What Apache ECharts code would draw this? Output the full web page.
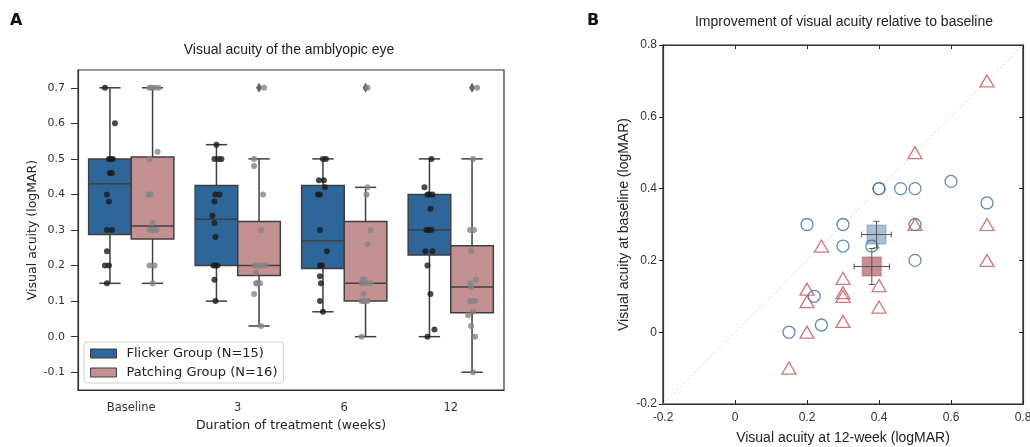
<!DOCTYPE html>
<html><head><meta charset="utf-8">
<script src="https://cdn.jsdelivr.net/npm/echarts@6/dist/echarts.min.js"></script>
<style>html,body{margin:0;padding:0;background:#fff}#c{width:1030px;height:447px}</style>
</head><body><div id="c"></div>
<script>
// ---------- Panel A data ----------
const categories = ['Baseline', '3', '6', '12'];
// box statistics per time point: [min, Q1, median, Q3, max]
const flickerBoxes = [
  [0.15, 0.287, 0.43, 0.50, 0.70],
  [0.10, 0.20, 0.33, 0.425, 0.54],
  [0.07, 0.192, 0.27, 0.425, 0.50],
  [0.00, 0.23, 0.30, 0.40, 0.50]
];
const patchingBoxes = [
  [0.15, 0.275, 0.311, 0.505, 0.70],
  [0.03, 0.172, 0.20, 0.324, 0.50],
  [0.00, 0.10, 0.15, 0.324, 0.42],
  [-0.10, 0.067, 0.14, 0.256, 0.50]
];
const patchingOutliers = [null, 0.70, 0.70, 0.70];
// individual subjects (strip points)
const flickerPoints = [
  [0.70, 0.60, 0.50, 0.50, 0.50, 0.46, 0.46, 0.40, 0.38, 0.30, 0.30, 0.24, 0.20, 0.20, 0.15],
  [0.54, 0.50, 0.50, 0.50, 0.40, 0.40, 0.38, 0.34, 0.32, 0.28, 0.20, 0.20, 0.20, 0.16, 0.10],
  [0.50, 0.50, 0.44, 0.44, 0.42, 0.40, 0.40, 0.30, 0.24, 0.20, 0.20, 0.17, 0.15, 0.10, 0.07],
  [0.50, 0.42, 0.40, 0.40, 0.40, 0.36, 0.30, 0.30, 0.30, 0.24, 0.24, 0.20, 0.12, 0.02, 0.00]
];
const flickerJitter = [
  [-5, 5, -1, 3, 1, 0, 2, -3, -1, -3, 2, -3, -5, -1, -3],
  [0, -2, 5, 2, -1, 3, -2, -4, -2, -1, -3, -1, 1, -2, -1],
  [0, 3, -4, 1, 2, -5, -3, -3, 4, -3, -1, -3, -2, -3, 0],
  [2, -5, -2, 0, 3, 1, -3, -1, 2, -4, 3, -2, 1, 5, -2]
];
const patchingPoints = [
  [0.70, 0.70, 0.70, 0.70, 0.52, 0.50, 0.40, 0.40, 0.32, 0.30, 0.30, 0.30, 0.30, 0.20, 0.20, 0.15],
  [0.70, 0.50, 0.48, 0.40, 0.30, 0.20, 0.20, 0.20, 0.20, 0.20, 0.18, 0.15, 0.15, 0.15, 0.12, 0.03],
  [0.70, 0.42, 0.40, 0.30, 0.26, 0.16, 0.16, 0.15, 0.15, 0.15, 0.12, 0.10, 0.10, 0.10, 0.10, 0.00],
  [0.70, 0.50, 0.30, 0.30, 0.24, 0.16, 0.15, 0.14, 0.10, 0.10, 0.10, 0.07, 0.06, 0.03, 0.00, -0.10]
];
const patchingJitter = [
  [-1, 2, 6, -3, 5, -3, -4, -2, 0, -3, 1, 4, -1, -3, 2, 0],
  [5, -5, -5, 4, 2, -4, -1, 2, 6, 0, -3, -3, -2, 1, -5, 2],
  [2, 2, 1, 5, 2, -3, -1, 5, -4, 0, -2, -4, -2, 2, -1, -4],
  [5, 1, -2, 2, -1, 4, -2, -1, -2, 3, 0, 1, -4, -1, 3, 1]
];

// ---------- Panel B data ----------
const flickerX12 = [0.20, 0.30, 0.40, 0.46, 0.50, 0.60, 0.70, 0.50, 0.30, 0.38, 0.50, 0.22, 0.24, 0.15, 0.40];
const flickerYBase = [0.30, 0.30, 0.40, 0.40, 0.40, 0.42, 0.36, 0.30, 0.24, 0.24, 0.20, 0.10, 0.02, 0.00, 0.40];
const patchingX12 = [0.50, 0.70, 0.70, 0.24, 0.30, 0.20, 0.30, 0.30, 0.20, 0.40, 0.40, 0.30, 0.20, 0.15, 0.50, 0.70];
const patchingYBase = [0.30, 0.30, 0.20, 0.24, 0.15, 0.12, 0.11, 0.10, 0.085, 0.13, 0.07, 0.03, 0.00, -0.10, 0.50, 0.70];
const flickerMean = [0.393, 0.272];
const flickerErr = [0.041, 0.037];
const patchingMean = [0.38, 0.183];
const patchingErr = [0.049, 0.05];
const aTicks = [-0.1, 0.0, 0.1, 0.2, 0.3, 0.4, 0.5, 0.6, 0.7];

// ---------- styles ----------
const FLICKER_FILL = '#2f6699';
const PATCH_FILL = '#c49192';
const EDGE = '#3f3f3f';
const SANS = 'Liberation Sans, Arial, sans-serif';
const DJ = 'DejaVu Sans, sans-serif';
const SIDE = 0.2;           // box centre offset (fraction of band)
const BAND_PX = 426 / 4;    // px per category on panel A

function boxRender(side, fill) {
  return function (params, api) {
    const cat = api.value(0);
    const band = api.coord([1, 0])[0] - api.coord([0, 0])[0];
    const cx = api.coord([cat, 0])[0] + side * band * SIDE;
    const hw = band * SIDE;
    const y = i => api.coord([cat, api.value(i)])[1];
    const yMin = y(1), yQ1 = y(2), yMed = y(3), yQ3 = y(4), yMax = y(5);
    const ls = { stroke: EDGE, lineWidth: 1.5 };
    return {
      type: 'group', children: [
        { type: 'line', shape: { x1: cx, y1: yMax, x2: cx, y2: yQ3 }, style: ls },
        { type: 'line', shape: { x1: cx, y1: yQ1, x2: cx, y2: yMin }, style: ls },
        { type: 'line', shape: { x1: cx - hw / 2, y1: yMax, x2: cx + hw / 2, y2: yMax }, style: ls },
        { type: 'line', shape: { x1: cx - hw / 2, y1: yMin, x2: cx + hw / 2, y2: yMin }, style: ls },
        { type: 'rect', shape: { x: cx - hw, y: yQ3, width: 2 * hw, height: yQ1 - yQ3 }, style: { fill: fill, stroke: EDGE, lineWidth: 1.5 } },
        { type: 'line', shape: { x1: cx - hw, y1: yMed, x2: cx + hw, y2: yMed }, style: ls }
      ]
    };
  };
}

function errRender(params, api) {
  const x = api.value(0), y = api.value(1), ex = api.value(2), ey = api.value(3);
  const l = api.coord([x - ex, y]), r = api.coord([x + ex, y]);
  const t = api.coord([x, y + ey]), b = api.coord([x, y - ey]);
  const c = 3;
  const st = { stroke: '#555', lineWidth: 1 };
  return {
    type: 'group', children: [
      { type: 'line', shape: { x1: l[0], y1: l[1], x2: r[0], y2: r[1] }, style: st },
      { type: 'line', shape: { x1: t[0], y1: t[1], x2: b[0], y2: b[1] }, style: st },
      { type: 'line', shape: { x1: l[0], y1: l[1] - c, x2: l[0], y2: l[1] + c }, style: st },
      { type: 'line', shape: { x1: r[0], y1: r[1] - c, x2: r[0], y2: r[1] + c }, style: st },
      { type: 'line', shape: { x1: t[0] - c, y1: t[1], x2: t[0] + c, y2: t[1] }, style: st },
      { type: 'line', shape: { x1: b[0] - c, y1: b[1], x2: b[0] + c, y2: b[1] }, style: st }
    ]
  };
}

const stripData = (vals, jit, side) => {
  const out = [];
  vals.forEach((arr, ci) => arr.forEach((v, k) => out.push([ci + side * SIDE + jit[ci][k] / BAND_PX, v])));
  return out;
};
const outlierData = [];
patchingOutliers.forEach((v, ci) => { if (v !== null) outlierData.push([ci + SIDE, v]); });

const chart = echarts.init(document.getElementById('c'), null, { renderer: 'canvas' });
const axLine = { show: true, onZero: false, lineStyle: { color: '#333', width: 1.2 } };

chart.setOption({
  animation: false,
  backgroundColor: '#fff',
  graphic: [
    { type: 'text', left: 10, top: 13, style: { text: 'A', font: 'bold 16px ' + DJ, fill: '#111' } },
    { type: 'text', left: 587, top: 13, style: { text: 'B', font: 'bold 16px ' + DJ, fill: '#111' } },
    { type: 'text', x: 289, y: 50, style: { text: 'Visual acuity of the amblyopic eye', font: '14px ' + SANS, fill: '#222', align: 'center', verticalAlign: 'middle' } },
    { type: 'text', x: 844, y: 22, style: { text: 'Improvement of visual acuity relative to baseline', font: '14px ' + SANS, fill: '#222', align: 'center', verticalAlign: 'middle' } }
  ],
  legend: {
    left: 84, top: 342, orient: 'vertical',
    backgroundColor: 'rgba(255,255,255,0.9)', borderColor: '#d0d0d0', borderWidth: 1, borderRadius: 3,
    padding: [5, 6, 4, 6], itemGap: 6, itemWidth: 26, itemHeight: 9,
    textStyle: { fontFamily: DJ, fontSize: 13, color: '#222', padding: [0, 0, 0, 5] },
    data: [
      { name: 'Flicker Group (N=15)', icon: 'rect', itemStyle: { color: FLICKER_FILL, borderColor: EDGE, borderWidth: 1 } },
      { name: 'Patching Group (N=16)', icon: 'rect', itemStyle: { color: PATCH_FILL, borderColor: EDGE, borderWidth: 1 } }
    ]
  },
  grid: [
    { left: 78, top: 70, width: 426, height: 320, outerBoundsMode: 'none', show: true, borderColor: '#333', borderWidth: 1.2, backgroundColor: 'transparent' },
    { left: 663, top: 45, width: 360, height: 359, outerBoundsMode: 'none', show: true, borderColor: '#222', borderWidth: 1.2, backgroundColor: 'transparent' }
  ],
  xAxis: [
    {
      type: 'category', gridIndex: 0, data: categories, boundaryGap: true,
      axisLine: axLine, axisTick: { alignWithLabel: true, length: 6, lineStyle: { color: '#333' } },
      axisLabel: { fontFamily: DJ, fontSize: 11.5, color: '#333', margin: 12 },
      name: 'Duration of treatment (weeks)', nameLocation: 'middle', nameGap: 27,
      nameTextStyle: { fontFamily: DJ, fontSize: 12.5, color: '#222' }
    },
    { type: 'value', gridIndex: 0, min: -0.5, max: 3.5, show: false, axisLine: { onZero: false } },
    {
      type: 'value', gridIndex: 1, min: -0.2, max: 0.8, interval: 0.2, position: 'bottom',
      axisLine: axLine, axisTick: { inside: true, length: 4, lineStyle: { color: '#222' } },
      axisLabel: { fontFamily: SANS, fontSize: 12, color: '#333', margin: 8 },
      splitLine: { show: false },
      name: 'Visual acuity at 12-week (logMAR)', nameLocation: 'middle', nameGap: 27,
      nameTextStyle: { fontFamily: SANS, fontSize: 14, color: '#222' }
    },
    {
      type: 'value', gridIndex: 1, min: -0.2, max: 0.8, interval: 0.2, position: 'top',
      axisLine: axLine, axisTick: { inside: true, length: 4, lineStyle: { color: '#222' } },
      axisLabel: { show: false }, splitLine: { show: false }
    }
  ],
  yAxis: [
    {
      type: 'value', gridIndex: 0, min: -0.15, max: 0.75,
      axisLine: axLine,
      axisTick: { show: true, length: 7, customValues: aTicks, lineStyle: { color: '#333' } },
      axisLabel: { fontFamily: DJ, fontSize: 11, color: '#333', margin: 13, customValues: aTicks, formatter: v => v.toFixed(1) },
      splitLine: { show: false },
      name: 'Visual acuity (logMAR)', nameLocation: 'middle', nameGap: 38,
      nameTextStyle: { fontFamily: DJ, fontSize: 12.5, color: '#222' }
    },
    {
      type: 'value', gridIndex: 1, min: -0.2, max: 0.8, interval: 0.2, position: 'left',
      axisLine: axLine, axisTick: { length: 4, lineStyle: { color: '#222' } },
      axisLabel: { fontFamily: SANS, fontSize: 12, color: '#333', margin: 6 },
      splitLine: { show: false },
      name: 'Visual acuity at baseline (logMAR)', nameLocation: 'middle', nameGap: 32,
      nameTextStyle: { fontFamily: SANS, fontSize: 14, color: '#222' }
    },
    {
      type: 'value', gridIndex: 1, min: -0.2, max: 0.8, interval: 0.2, position: 'right',
      axisLine: axLine, axisTick: { inside: true, length: 4, lineStyle: { color: '#222' } },
      axisLabel: { show: false }, splitLine: { show: false }
    }
  ],
  series: [
    {
      name: 'Flicker Group (N=15)', type: 'custom', xAxisIndex: 0, yAxisIndex: 0,
      itemStyle: { color: FLICKER_FILL },
      renderItem: boxRender(-1, FLICKER_FILL), encode: { x: 0, y: [1, 2, 3, 4, 5] },
      data: flickerBoxes.map((b, i) => [i].concat(b)), z: 2
    },
    {
      name: 'Patching Group (N=16)', type: 'custom', xAxisIndex: 0, yAxisIndex: 0,
      itemStyle: { color: PATCH_FILL },
      renderItem: boxRender(1, PATCH_FILL), encode: { x: 0, y: [1, 2, 3, 4, 5] },
      data: patchingBoxes.map((b, i) => [i].concat(b)), z: 2
    },
    {
      name: 'outliers', type: 'scatter', xAxisIndex: 1, yAxisIndex: 0,
      symbol: 'diamond', symbolSize: [6, 10], itemStyle: { color: EDGE },
      data: outlierData, z: 3
    },
    {
      name: 'flicker strip', type: 'scatter', xAxisIndex: 1, yAxisIndex: 0,
      symbolSize: 6, itemStyle: { color: '#1a1a1a' },
      data: stripData(flickerPoints, flickerJitter, -1), z: 4
    },
    {
      name: 'patching strip', type: 'scatter', xAxisIndex: 1, yAxisIndex: 0,
      symbolSize: 6, itemStyle: { color: '#858585' },
      data: stripData(patchingPoints, patchingJitter, 1), z: 4
    },
    {
      name: 'identity', type: 'line', xAxisIndex: 2, yAxisIndex: 1,
      data: [[-0.2, -0.2], [0.8, 0.8]], symbol: 'none',
      lineStyle: { color: '#b0b0b0', width: 1, type: [1, 3] }, z: 1
    },
    {
      name: 'flicker mean', type: 'scatter', xAxisIndex: 2, yAxisIndex: 1,
      symbol: 'rect', symbolSize: 19,
      itemStyle: { color: 'rgba(60,110,160,0.55)', borderColor: 'rgba(60,110,160,0.25)', borderWidth: 2 },
      data: [flickerMean], z: 2
    },
    {
      name: 'patching mean', type: 'scatter', xAxisIndex: 2, yAxisIndex: 1,
      symbol: 'rect', symbolSize: 19,
      itemStyle: { color: 'rgba(140,30,40,0.62)', borderColor: 'rgba(140,30,40,0.25)', borderWidth: 2 },
      data: [patchingMean], z: 2
    },
    {
      name: 'errors', type: 'custom', xAxisIndex: 2, yAxisIndex: 1,
      renderItem: errRender,
      data: [flickerMean.concat(flickerErr), patchingMean.concat(patchingErr)], z: 3
    },
    {
      name: 'flicker B', type: 'scatter', xAxisIndex: 2, yAxisIndex: 1,
      symbol: 'circle', symbolSize: 12,
      itemStyle: { color: 'rgba(0,0,0,0)', borderColor: '#3a6ea6', borderWidth: 1.3 },
      data: flickerX12.map((x, i) => [x, flickerYBase[i]]), z: 4
    },
    {
      name: 'patching B', type: 'scatter', xAxisIndex: 2, yAxisIndex: 1,
      symbol: 'triangle', symbolSize: [14, 12],
      itemStyle: { color: 'rgba(0,0,0,0)', borderColor: '#c0585a', borderWidth: 1.3 },
      data: patchingX12.map((x, i) => [x, patchingYBase[i]]), z: 4
    }
  ]
});
</script>
</body></html>
